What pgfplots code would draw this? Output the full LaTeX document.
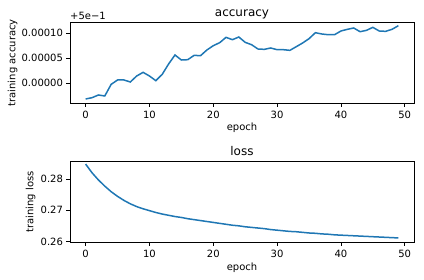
\documentclass[border=0pt]{standalone}
\usepackage{fontspec}
\setmainfont{DejaVu Sans}
\usepackage{pgfplots}
\pgfplotsset{compat=1.18}
\definecolor{mplblue}{HTML}{1F77B4}
\pgfplotsset{
  mystyle/.style={
    scale only axis, width=344pt, height=81pt,
    xmin=-2.45, xmax=51.45,
    xtick={0,10,20,30,40,50},
    scaled y ticks=false, scaled x ticks=false,
    /pgf/number format/assume math mode=true,
    tick align=outside, xtick pos=bottom, ytick pos=left,
    major tick length=3.5pt,
    every tick/.style={black, line width=0.8pt},
    axis line style={line width=0.8pt, black},
    font=\fontsize{10}{12}\selectfont,
    title style={font=\fontsize{12}{14.4}\selectfont, at={(axis description cs:0.5,1)}, anchor=base, yshift=-0.4pt},
    xticklabel style={anchor=base, yshift=-12pt},
    yticklabel style={anchor=east},
    xlabel style={at={(axis description cs:0.5,0)}, anchor=base},
    ylabel style={anchor=base, rotate=0},
  }
}
\begin{document}
\begin{tikzpicture}
\path[use as bounding box] (0,0) rectangle (424pt,280pt);
\begin{axis}[mystyle, name=top,
  at={(70pt,176.7pt)}, anchor=south west,
  ymin=-3.99e-5, ymax=12.21e-5,
  ytick={0,5e-5,1e-4}, yticklabels={0.00000,0.00005,0.00010},
  title={accuracy}, xlabel={epoch}, ylabel={training accuracy},
  xlabel style={yshift=-27.7pt},
  ylabel style={at={([xshift=-54.5pt]axis description cs:0,0.5)}},
]
\addplot[color=mplblue, line width=1.5pt, mark=none] coordinates {
(0,-3.13e-5) (1,-2.87e-5) (2,-2.33e-5) (3,-2.53e-5) (4,-0.2e-5)
(5,0.67e-5) (6,0.67e-5) (7,0.27e-5) (8,1.47e-5) (9,2.2e-5)
(10,1.47e-5) (11,0.53e-5) (12,1.8e-5) (13,3.87e-5) (14,5.67e-5)
(15,4.67e-5) (16,4.73e-5) (17,5.6e-5) (18,5.53e-5) (19,6.67e-5)
(20,7.53e-5) (21,8.13e-5) (22,9.2e-5) (23,8.73e-5) (24,9.27e-5)
(25,8.2e-5) (26,7.73e-5) (27,6.87e-5) (28,6.8e-5) (29,7.07e-5)
(30,6.73e-5) (31,6.73e-5) (32,6.6e-5) (33,7.33e-5) (34,8.07e-5)
(35,8.93e-5) (36,10.13e-5) (37,9.87e-5) (38,9.73e-5) (39,9.73e-5)
(40,10.47e-5) (41,10.8e-5) (42,11.07e-5) (43,10.33e-5) (44,10.6e-5)
(45,11.2e-5) (46,10.47e-5) (47,10.4e-5) (48,10.8e-5) (49,11.53e-5)
};
\end{axis}
\node[anchor=base west, inner sep=0pt, font=\fontsize{10}{12}\selectfont] at ([yshift=3pt]top.north west) {+5e−1};
\begin{axis}[mystyle,
  at={(70pt,37.7pt)}, anchor=south west,
  ymin=0.2597, ymax=0.2858,
  ytick={0.26,0.27,0.28}, yticklabels={0.26,0.27,0.28},
  title={loss}, xlabel={epoch}, ylabel={training loss},
  xlabel style={yshift=-28.4pt},
  ylabel style={at={([xshift=-36.5pt]axis description cs:0,0.5)}},
]
\addplot[color=mplblue, line width=1.5pt, mark=none] coordinates {
(0,0.2849) (1,0.2821) (2,0.2798) (3,0.2778) (4,0.2760)
(5,0.2745) (6,0.2732) (7,0.2721) (8,0.2712) (9,0.2705)
(10,0.2699) (11,0.2693) (12,0.2688) (13,0.2684) (14,0.2680)
(15,0.2677) (16,0.2673) (17,0.2670) (18,0.2667) (19,0.2664)
(20,0.2661) (21,0.2658) (22,0.2655) (23,0.2652) (24,0.2650)
(25,0.2647) (26,0.2645) (27,0.2643) (28,0.2641) (29,0.2638)
(30,0.2636) (31,0.2634) (32,0.2632) (33,0.2631) (34,0.2629)
(35,0.2627) (36,0.2626) (37,0.2624) (38,0.2623) (39,0.2621)
(40,0.2620) (41,0.2619) (42,0.2618) (43,0.2617) (44,0.2616)
(45,0.2615) (46,0.2614) (47,0.2613) (48,0.2612) (49,0.2611)
};
\end{axis}
\end{tikzpicture}
\end{document}
